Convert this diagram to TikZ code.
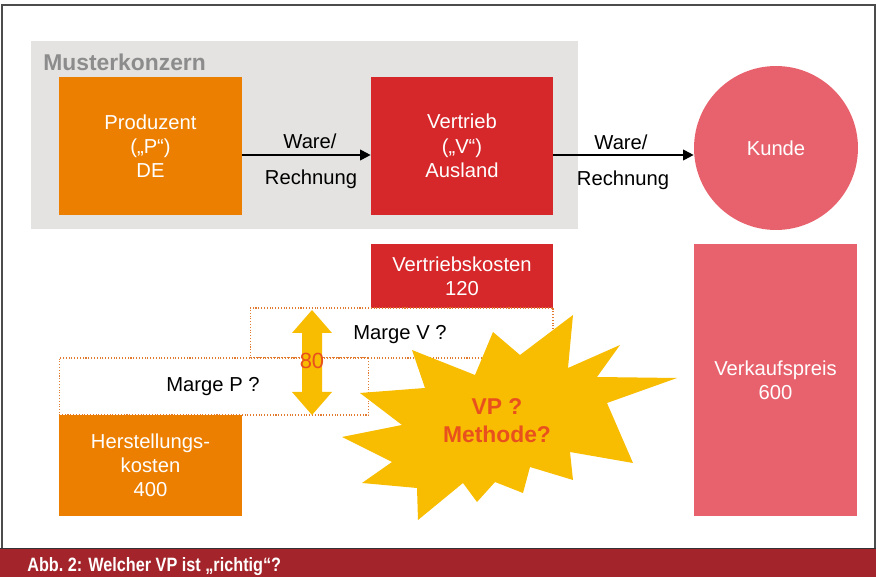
\documentclass[tikz,border=0pt]{standalone}
\usepackage{fontspec}
\setmainfont{Liberation Sans}
\usepackage{tikz}
\usetikzlibrary{arrows.meta}

\definecolor{prodorange}{HTML}{EC7F00}
\definecolor{vertred}{HTML}{D6282A}
\definecolor{kundepink}{HTML}{E8626E}
\definecolor{burstyellow}{HTML}{F8BC00}
\definecolor{groupgray}{HTML}{E4E3E1}
\definecolor{titlegray}{HTML}{8C8C8C}
\definecolor{captionred}{HTML}{A3242A}
\definecolor{markred}{HTML}{E8501E}
\definecolor{dotorange}{HTML}{E27A30}

\tikzset{
  box/.style={rectangle, inner sep=0pt, align=center, text=white,
    font=\fontsize{11.5}{13.8}\selectfont},
  margebox/.style={rectangle, inner sep=0pt, fill=white, draw=dotorange,
    densely dotted, line width=0.6pt, font=\fontsize{11.5}{13.8}\selectfont},
  flowlabel/.style={font=\fontsize{11.5}{13.8}\selectfont}
}

\begin{document}
\begin{tikzpicture}[x=0.02cm, y=-0.02cm, >={Triangle[length=6pt,width=6pt]}]
    \useasboundingbox (0,0) rectangle (876,577);

    % frame and caption
    \draw[line width=0.8pt, black!70] (2,577) -- (2,5) -- (875,5) -- (875,577);
    \fill[captionred] (0,549) rectangle (876,577);
    \draw[line width=0.8pt, black!80] (0,548.5) -- (876,548.5);
    \node[anchor=base west, text=white, inner sep=0pt] (caption) at (27,571)
        {\scalebox{0.84}[1]{\fontsize{11}{13}\selectfont\bfseries Abb.~2: Welcher VP ist „richtig“?}};

    % konzern
    \fill[groupgray] (31,41) rectangle (578,229);
    \node[anchor=west, text=titlegray, inner sep=0pt, font=\fontsize{13}{15}\selectfont\bfseries]
        (konzern) at (43,62) {Musterkonzern};

    \node[box, fill=prodorange, minimum width=3.66cm, minimum height=2.76cm] (prod) at (150.5,146)
        {Produzent\\(„P“)\\DE};
    \node[box, fill=vertred, minimum width=3.64cm, minimum height=2.76cm] (vert) at (462,146)
        {Vertrieb\\(„V“)\\Ausland};
    \node[box, circle, fill=kundepink, minimum size=3.28cm] (kunde) at (776,148) {Kunde};

    \draw[->, line width=1.1pt] ([yshift=-0.18cm]prod.east) -- ([yshift=-0.18cm]vert.west);
    \draw[->, line width=1.1pt] ([yshift=-0.18cm]vert.east) -- ([yshift=-0.18cm]vert.east -| kunde.west);
    \node[flowlabel] (ware1) at (310,141) {Ware/};
    \node[flowlabel] (rech1) at (311,179) {Rechnung};
    \node[flowlabel] (ware2) at (621,142) {Ware/};
    \node[flowlabel] (rech2) at (623,180) {Rechnung};

    % kosten und margen
    \node[box, fill=vertred, minimum width=3.64cm, minimum height=1.28cm] (vkost) at (462,276)
        {Vertriebskosten\\120};
    \node[margebox, minimum width=6.06cm, minimum height=1.0cm] (margeV) at (401.5,333) {};
    \node[flowlabel] (margeVtext) at (400,335) {Marge V ?};
    \node[margebox, minimum width=6.2cm, minimum height=1.14cm] (margeP) at (214,386.5) {};
    \node[flowlabel] (margePtext) at (213,387) {Marge P ?};
    \node[box, fill=prodorange, minimum width=3.66cm, minimum height=2.02cm] (herst) at (150.5,465.5)
        {Herstellungs-\\kosten\\400};
    \node[box, fill=kundepink, minimum width=3.26cm, minimum height=5.44cm] (vkpreis) at (775.5,380)
        {Verkaufspreis\\600};

    % doppelpfeil
    \fill[burstyellow] (312,310) -- (332,333) -- (322,333) -- (322,392) -- (332,392)
        -- (312,415) -- (292,392) -- (302,392) -- (302,333) -- (292,333) -- cycle;
    \node[text=markred, font=\fontsize{12.5}{14}\selectfont] (achtzig) at (312,361) {80};

    % stern
    \fill[burstyellow] (573,315) -- (568,368) -- (620,345) -- (597,377) -- (677,378)
        -- (607,403) -- (633,463) -- (570,452) -- (573,480) -- (530,467) -- (523,493)
        -- (495,482) -- (477,502) -- (463,483) -- (418,520) -- (417,488) -- (362,483)
        -- (392,462) -- (342,437) -- (402,425) -- (360,393) -- (425,388) -- (412,350)
        -- (475,375) -- (493,332) -- (520,355) -- cycle;
    \node[text=markred, align=center, font=\fontsize{13}{16}\selectfont\bfseries]
        (vp) at (497,421) {VP ?\\Methode?};
\end{tikzpicture}
\end{document}
